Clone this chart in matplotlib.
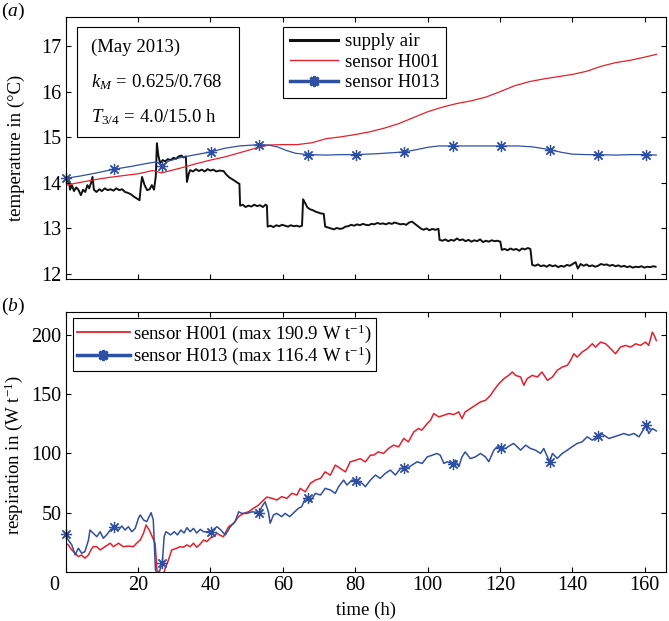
import numpy as np
import matplotlib
matplotlib.use('Agg')
import matplotlib.pyplot as plt
from matplotlib.lines import Line2D
from matplotlib.patches import Rectangle
from matplotlib.transforms import ScaledTranslation

plt.rcParams['font.family'] = ['Liberation Serif', 'DejaVu Serif']
plt.rcParams['mathtext.fontset'] = 'custom'
plt.rcParams['mathtext.rm'] = 'Liberation Serif'
plt.rcParams['mathtext.it'] = 'Liberation Serif:italic'

RED = '#e3202b'
BLUE = '#2f4fa2'

# (a) temperatures
sup_t = [0.3, 0.8, 1.2, 1.7, 2.3, 2.9, 3.5, 4.2, 4.8, 5.4, 6.0, 6.5, 7.0, 7.4, 7.8, 8.5, 9.3, 10.0,
         10.8, 11.6, 12.4, 13.2, 14.0, 14.8, 15.6, 16.4, 17.2, 18.0, 18.8, 19.6, 20.4, 20.8, 21.1,
         21.8, 22.5, 23.2, 23.8, 24.4, 24.9, 25.2, 25.6, 26.1, 26.8, 27.5, 28.2, 29.0, 29.8, 30.5,
         31.2, 32.0, 32.5, 33.2, 33.5, 34.0, 34.4, 35.2, 36.0, 36.8, 37.6, 38.4, 39.2, 40.0, 40.8,
         41.6, 42.5, 43.6, 44.4, 45.2, 46.0, 46.8, 47.5, 48.0, 48.2, 48.9, 49.7, 50.5, 51.3, 52.1,
         52.9, 53.7, 54.5, 55.2, 55.6, 55.8, 56.6, 57.4, 58.2, 59.0, 59.8, 60.6, 61.4, 62.2, 63.0,
         63.8, 64.6, 65.3, 65.6, 66.2, 66.8, 67.5, 68.3, 69.0, 69.8, 70.5, 71.3, 71.7, 72.5, 73.3,
         74.1, 74.9, 75.7, 76.5, 77.3, 78.1, 78.9, 79.7, 80.5, 81.3, 82.1, 82.9, 83.7, 84.5, 85.3,
         86.1, 86.9, 87.7, 88.5, 89.3, 90.1, 90.9, 91.7, 92.5, 93.3, 94.1, 94.9, 95.7, 96.5, 97.3,
         98.1, 98.9, 99.7, 100.5, 101.3, 102.1, 103.0, 103.3, 104.1, 104.9, 105.7, 106.5, 107.3,
         108.1, 108.9, 109.7, 110.5, 111.3, 112.1, 112.9, 113.7, 114.5, 115.3, 116.1, 116.9, 117.7,
         118.5, 119.3, 120.1, 120.5, 121.3, 122.1, 122.9, 123.7, 124.5, 125.3, 126.1, 126.9, 127.7,
         128.4, 128.9, 129.7, 130.5, 131.3, 132.1, 132.9, 133.7, 134.5, 135.3, 136.1, 136.9, 137.7,
         138.5, 139.3, 140.1, 140.9, 141.5, 142.3, 143.1, 143.9, 144.7, 145.5, 146.3, 147.1, 147.9,
         148.7, 149.5, 150.3, 151.1, 151.9, 152.7, 153.5, 154.3, 155.1, 155.9, 156.7, 157.5, 158.3,
         159.1, 159.9, 160.7, 161.5, 162.3, 163.0]
sup_v = [14.02, 14.10, 13.85, 13.95, 13.82, 13.90, 13.85, 13.73, 13.85, 13.80, 13.95, 13.88, 14.00,
         14.13, 13.85, 13.80, 13.86, 13.82, 13.88, 13.84, 13.86, 13.83, 13.88, 13.84, 13.86, 13.80,
         13.78, 13.75, 13.70, 13.66, 13.62, 13.95, 14.13, 13.95, 13.84, 13.86, 13.95, 13.85, 14.15,
         14.87, 14.60, 14.43, 14.50, 14.47, 14.52, 14.50, 14.55, 14.53, 14.58, 14.60, 14.56, 14.58,
         14.02, 14.20, 14.28, 14.25, 14.30, 14.26, 14.29, 14.25, 14.30, 14.27, 14.29, 14.25, 14.27,
         14.26, 14.18, 14.12, 14.08, 14.04, 14.00, 13.98, 13.50, 13.52, 13.47, 13.50, 13.48, 13.52,
         13.49, 13.51, 13.47, 13.52, 13.50, 13.04, 13.06, 13.03, 13.07, 13.05, 13.08, 13.06, 13.04,
         13.07, 13.05, 13.06, 13.04, 13.06, 13.64, 13.55, 13.46, 13.42, 13.40, 13.37, 13.35, 13.33,
         13.32, 13.04, 13.02, 13.00, 12.98, 13.01, 12.99, 13.00, 13.04, 13.05, 13.08, 13.06, 13.09,
         13.07, 13.10, 13.08, 13.07, 13.10, 13.09, 13.12, 13.10, 13.11, 13.09, 13.12, 13.10, 13.13,
         13.11, 13.09, 13.10, 13.08, 13.13, 13.15, 13.10, 13.05, 13.00, 12.97, 13.00, 12.96, 12.99,
         12.97, 12.99, 12.75, 12.73, 12.76, 12.72, 12.75, 12.73, 12.78, 12.74, 12.76, 12.72, 12.75,
         12.71, 12.74, 12.72, 12.76, 12.70, 12.73, 12.71, 12.74, 12.72, 12.73, 12.71, 12.53, 12.55,
         12.52, 12.56, 12.53, 12.55, 12.51, 12.56, 12.54, 12.57, 12.55, 12.20, 12.18, 12.21, 12.17,
         12.19, 12.16, 12.20, 12.17, 12.19, 12.15, 12.18, 12.16, 12.20, 12.18, 12.22, 12.26, 12.12,
         12.22, 12.18, 12.21, 12.17, 12.19, 12.16, 12.18, 12.22, 12.20, 12.21, 12.18, 12.20, 12.17,
         12.19, 12.16, 12.18, 12.15, 12.17, 12.14, 12.16, 12.15, 12.17, 12.14, 12.16, 12.15, 12.17,
         12.16]

h001_t = [0, 4, 8, 12, 16, 20, 24, 26.5, 28, 32, 36, 40, 44, 48, 52, 56, 60, 64, 68, 72, 76, 80,
          84, 88, 92, 96, 100, 104, 108, 112, 116, 120, 124, 128, 132, 136, 140, 144, 148, 152,
          156, 160, 163.2]
h001_v = [13.95, 14.01, 14.07, 14.12, 14.16, 14.20, 14.27, 14.22, 14.25, 14.33, 14.42, 14.50, 14.57,
          14.66, 14.75, 14.83, 14.84, 14.84, 14.88, 14.97, 15.01, 15.06, 15.12, 15.20, 15.30, 15.43,
          15.56, 15.66, 15.74, 15.80, 15.88, 16.00, 16.13, 16.22, 16.28, 16.33, 16.38, 16.45, 16.56,
          16.64, 16.69, 16.76, 16.82]

h013_t = [0, 4, 8, 13.4, 18, 22, 25, 26.7, 28.5, 32, 36, 40.1, 44, 48, 53.5, 56, 58.5, 61, 63.5,
          66.9, 72, 76, 80.2, 86, 90, 93.6, 97, 100, 103, 107, 112, 116, 120.3, 125, 129, 133.7,
          137, 140, 144, 147.1, 152, 156, 160.4, 163.2]
h013_v = [14.10, 14.15, 14.21, 14.30, 14.36, 14.42, 14.46, 14.38, 14.48, 14.56, 14.62, 14.68, 14.76,
          14.81, 14.84, 14.83, 14.79, 14.71, 14.65, 14.62, 14.61, 14.62, 14.62, 14.64, 14.66, 14.68,
          14.73, 14.78, 14.81, 14.81, 14.81, 14.81, 14.81, 14.81, 14.79, 14.73, 14.67, 14.63, 14.62,
          14.62, 14.61, 14.62, 14.62, 14.61]

mk_t = [0, 13.4, 26.7, 40.1, 53.5, 66.9, 80.2, 93.6, 107.0, 120.3, 133.7, 147.1, 160.4]
mk_top = [14.10, 14.30, 14.38, 14.68, 14.84, 14.62, 14.62, 14.68, 14.81, 14.81, 14.73, 14.62, 14.62]

# (b) respiration
r001_t = [0, 0.7, 1.7, 2.6, 3.5, 4.4, 5.3, 6.3, 7.0, 7.6, 8.6, 9.5, 10.9, 12.3, 13.2, 14.6, 15.9,
          17.3, 18.7, 19.6, 20.6, 21.5, 22.2, 23.1, 24.1, 24.7, 25.2, 26.1, 27.0, 27.5, 28.4, 29.3,
          30.7, 31.6, 32.5, 33.5, 34.4, 35.3, 36.2, 37.2, 38.1, 39.0, 39.9, 40.8, 41.8, 42.7, 43.6,
          45.0, 46.4, 47.8, 49.1, 50.5, 51.9, 53.3, 54.7, 55.6, 57.0, 58.3, 59.7, 61.1, 62.5, 63.9,
          64.8, 66.2, 67.6, 69.0, 70.4, 71.7, 73.1, 74.5, 75.9, 77.3, 78.6, 80.0, 81.4, 82.8, 84.2,
          85.1, 86.4, 87.8, 89.2, 90.6, 92.0, 93.4, 94.7, 96.2, 97.5, 98.4, 99.9, 100.8, 101.7,
          103.1, 104.5, 105.8, 107.2, 108.6, 109.5, 110.4, 111.8, 113.2, 114.6, 116.0, 117.4, 118.3,
          119.7, 121.1, 122.4, 123.4, 124.3, 125.7, 126.6, 127.5, 128.9, 130.3, 131.6, 133.1, 134.5,
          135.8, 137.2, 138.6, 139.5, 140.4, 141.3, 142.7, 144.1, 145.5, 146.4, 147.8, 149.2, 150.6,
          151.9, 153.3, 154.7, 156.1, 157.5, 158.8, 160.2, 161.1, 162.1, 162.6, 163.2]
r001_v = [24.4, 23.0, 18.7, 16.0, 13.1, 14.5, 11.8, 14.5, 19.0, 21.5, 21.5, 18.7, 21.5, 24.4, 21.5,
          24.4, 21.5, 22.0, 21.5, 24.4, 27.1, 32.8, 39.7, 35.5, 28.6, 24.4, 2.0, -2.0, -2.0, 3.4,
          10.3, 18.7, 20.2, 21.5, 21.0, 23.0, 21.5, 24.4, 21.0, 23.8, 27.1, 25.8, 28.6, 29.9, 32.8,
          31.0, 29.9, 38.3, 41.2, 46.8, 49.5, 50.9, 53.8, 56.5, 60.8, 63.3, 62.2, 60.8, 63.6, 62.2,
          66.4, 65.0, 70.6, 67.7, 74.8, 77.6, 79.0, 84.5, 81.7, 90.2, 87.4, 84.5, 92.9, 94.2, 95.6,
          92.9, 98.6, 98.6, 101.4, 100.0, 104.2, 107.0, 105.6, 112.6, 109.8, 118.2, 121.0, 119.6,
          125.2, 128.0, 133.6, 130.8, 132.2, 133.6, 132.8, 135.0, 129.4, 135.0, 137.8, 140.6, 143.4,
          144.8, 149.0, 153.2, 158.8, 163.0, 165.8, 168.6, 165.8, 164.4, 157.4, 163.0, 165.8, 164.4,
          168.6, 161.6, 164.4, 170.0, 172.8, 174.2, 178.4, 184.0, 181.2, 185.4, 188.2, 192.4, 189.6,
          193.8, 192.4, 188.2, 184.0, 189.6, 191.0, 189.6, 192.4, 191.0, 193.8, 191.0, 202.2, 199.4,
          195.2]

r013_t = [0, 0.7, 1.7, 2.6, 3.5, 4.4, 5.3, 6.3, 6.7, 7.6, 8.6, 9.5, 10.4, 11.3, 12.3, 13.4, 14.6,
          15.5, 16.4, 17.3, 18.3, 19.2, 20.1, 20.6, 21.5, 22.4, 23.6, 24.2, 24.8, 25.3, 25.9, 26.7,
          27.2, 27.7, 29.0, 30.0, 30.9, 31.8, 32.7, 33.5, 34.4, 35.3, 36.2, 37.2, 38.1, 40.1, 40.8,
          41.8, 42.7, 44.1, 45.5, 46.8, 47.8, 48.7, 50.1, 51.5, 53.5, 54.2, 55.1, 56.0, 56.5, 57.4,
          58.3, 59.7, 60.6, 61.9, 63.3, 64.3, 65.2, 66.2, 66.9, 67.5, 69.0, 70.4, 71.7, 73.1, 74.5,
          75.4, 76.8, 77.7, 79.1, 80.2, 81.9, 82.8, 84.2, 85.6, 86.9, 88.3, 89.7, 91.1, 92.5, 93.6,
          94.3, 95.7, 97.1, 98.5, 99.9, 101.2, 102.6, 103.5, 104.5, 105.4, 107.0, 107.7, 108.6,
          109.5, 110.4, 111.8, 113.2, 114.6, 116.0, 116.9, 118.3, 119.2, 120.3, 121.5, 122.9, 123.8,
          125.2, 125.7, 127.1, 128.4, 129.8, 131.2, 132.1, 133.7, 134.5, 135.8, 137.2, 138.6, 139.9,
          141.3, 142.7, 144.1, 145.5, 147.1, 147.8, 148.7, 150.1, 151.5, 152.9, 154.2, 155.6, 157.0,
          158.4, 160.4, 161.1, 162.1, 163.2]
r013_v = [32.2, 27.1, 22.9, 14.5, 20.2, 16.0, 17.3, 27.1, 35.5, 32.8, 29.9, 34.1, 28.6, 31.4, 35.5,
          37.8, 35.5, 38.9, 35.5, 38.3, 34.1, 36.9, 45.4, 48.2, 44.0, 42.6, 50.1, 44.0, 2.0, -2.0,
          0.5, 8.1, 29.9, 34.1, 31.4, 34.1, 31.4, 35.5, 33.0, 37.5, 34.1, 36.9, 33.0, 36.1, 34.1,
          34.0, 36.0, 38.3, 36.0, 31.4, 38.3, 42.5, 50.9, 49.5, 49.5, 50.9, 50.1, 55.1, 59.3, 50.9,
          41.2, 48.2, 49.5, 46.8, 49.5, 46.8, 50.9, 53.8, 55.1, 62.2, 62.6, 59.3, 66.4, 65.0, 70.6,
          69.3, 66.4, 72.0, 77.6, 73.4, 77.6, 77.0, 74.8, 72.0, 77.6, 81.8, 79.0, 83.2, 86.0, 81.8,
          87.4, 87.4, 87.4, 90.2, 93.0, 91.6, 97.1, 98.5, 100.0, 98.5, 91.6, 93.0, 91.0, 94.4, 88.8,
          97.1, 101.3, 95.7, 97.1, 100.0, 97.1, 93.0, 102.8, 105.6, 104.2, 104.2, 107.0, 108.4,
          104.2, 102.8, 107.0, 104.2, 102.8, 100.0, 104.2, 93.0, 100.0, 95.8, 100.0, 102.8, 105.6,
          108.4, 109.8, 114.0, 111.2, 114.5, 117.0, 115.4, 112.6, 114.0, 115.4, 116.8, 115.4, 116.8,
          114.0, 123.8, 116.8, 121.0, 119.0]

mk_bot = [32.2, 37.8, 8.1, 34.0, 50.1, 62.6, 77.0, 87.4, 91.0, 104.2, 93.0, 114.5, 123.8]

xticks = [0, 20, 40, 60, 80, 100, 120, 140, 160]

fig = plt.figure(figsize=(6.69, 6.21), dpi=100)
ax1 = fig.add_axes([0.0982, 0.5507, 0.898, 0.4219])
ax2 = fig.add_axes([0.0982, 0.0786, 0.898, 0.4187])

ast = (8, 2, 0)

ax1.plot(sup_t, sup_v, color='#111111', lw=1.4)
ax1.plot(h001_t, h001_v, color=RED, lw=0.9)
ax1.plot(h013_t, h013_v, color=BLUE, lw=0.9)
ax1.plot(mk_t, mk_top, ls='none', marker=ast, ms=8, mew=0.9, color=BLUE, clip_on=False)

ax2.plot(r001_t, r001_v, color=RED, lw=1.1)
ax2.plot(r013_t, r013_v, color=BLUE, lw=1.1)
ax2.plot(mk_t, mk_bot, ls='none', marker=ast, ms=8, mew=0.9, color=BLUE, clip_on=False)

ax1.set_xlim(0, 166)
ax1.set_ylim(11.89, 17.64)
ax1.set_xticks(xticks)
ax1.set_yticks([12, 13, 14, 15, 16, 17])
ax2.set_xlim(0, 166)
ax2.set_ylim(0, 219)
ax2.set_xticks(xticks)
ax2.set_yticks([50, 100, 150, 200])

for ax in (ax1, ax2):
    ax.tick_params(direction='in', top=True, right=True, length=3.6, width=0.8,
                   labelsize=14.5, pad=3)
    for s in ax.spines.values():
        s.set_linewidth(0.8)
ax1.tick_params(labelbottom=False)

ax1.set_ylabel('temperature in (°C)', fontsize=13.5)
ax1.yaxis.set_label_coords(-0.068, 0.5)
ax2.set_ylabel('respiration in (W t$^{-1}$)', fontsize=13.5)
ax2.yaxis.set_label_coords(-0.068, 0.451)
ax2.set_xlabel('time (h)', fontsize=13.5)
ax2.xaxis.set_label_coords(0.5, -0.115)

# the "0" label sits a bit left of the axis corner in the original
lab0 = ax2.get_xticklabels()[0]
lab0.set_transform(lab0.get_transform() + ScaledTranslation(-0.11, 0, fig.dpi_scale_trans))

# info box
ax1.add_patch(Rectangle((0.0183, 0.543), 0.2706, 0.4176, transform=ax1.transAxes,
                        fill=False, ec='k', lw=0.8))
ax1.text(0.0416, 0.865, '(May 2013)', transform=ax1.transAxes, fontsize=13.5, va='baseline')
ax1.text(0.0416, 0.732, r'$k_M\,{=}\,0.625/0.768$', transform=ax1.transAxes, fontsize=13.5,
         va='baseline')
ax1.text(0.0416, 0.600, r'$T_{3/4}\,{=}\,4.0/15.0$ h', transform=ax1.transAxes, fontsize=13.5,
         va='baseline')

h_sup = Line2D([], [], color='#111111', lw=2.2)
h_red = Line2D([], [], color=RED, lw=1.0)
h_blue = Line2D([], [], color=BLUE, lw=2.5, marker=ast, ms=8, mew=2)
leg1 = ax1.legend([h_sup, h_red, h_blue], ['supply air', 'sensor H001', 'sensor H013'],
                  loc='upper left', bbox_to_anchor=(0.362, 0.963), borderaxespad=0,
                  fancybox=False, edgecolor='k', framealpha=1, fontsize=13.5,
                  handlelength=2.6, handletextpad=0.35, labelspacing=0.18, borderpad=0.35,
                  numpoints=1)
leg1.get_frame().set_linewidth(0.8)

h_red2 = Line2D([], [], color=RED, lw=1.3)
leg2 = ax2.legend([h_red2, h_blue],
                  ['sensor H001 (max 190.9 W t$^{-1}$)', 'sensor H013 (max 116.4 W t$^{-1}$)'],
                  loc='upper left', bbox_to_anchor=(0.0127, 0.976), borderaxespad=0,
                  fancybox=False, edgecolor='k', framealpha=1, fontsize=13.5,
                  handlelength=2.8, handletextpad=0.2, labelspacing=0.0, borderpad=0.2,
                  numpoints=1)
leg2.get_frame().set_linewidth(0.8)

fig.text(0.002, 1 - 16 / 621, '($a$)', fontsize=14, va='baseline')
fig.text(0.002, 1 - 311 / 621, '($b$)', fontsize=14, va='baseline')

fig.savefig('out.png', dpi=100)
